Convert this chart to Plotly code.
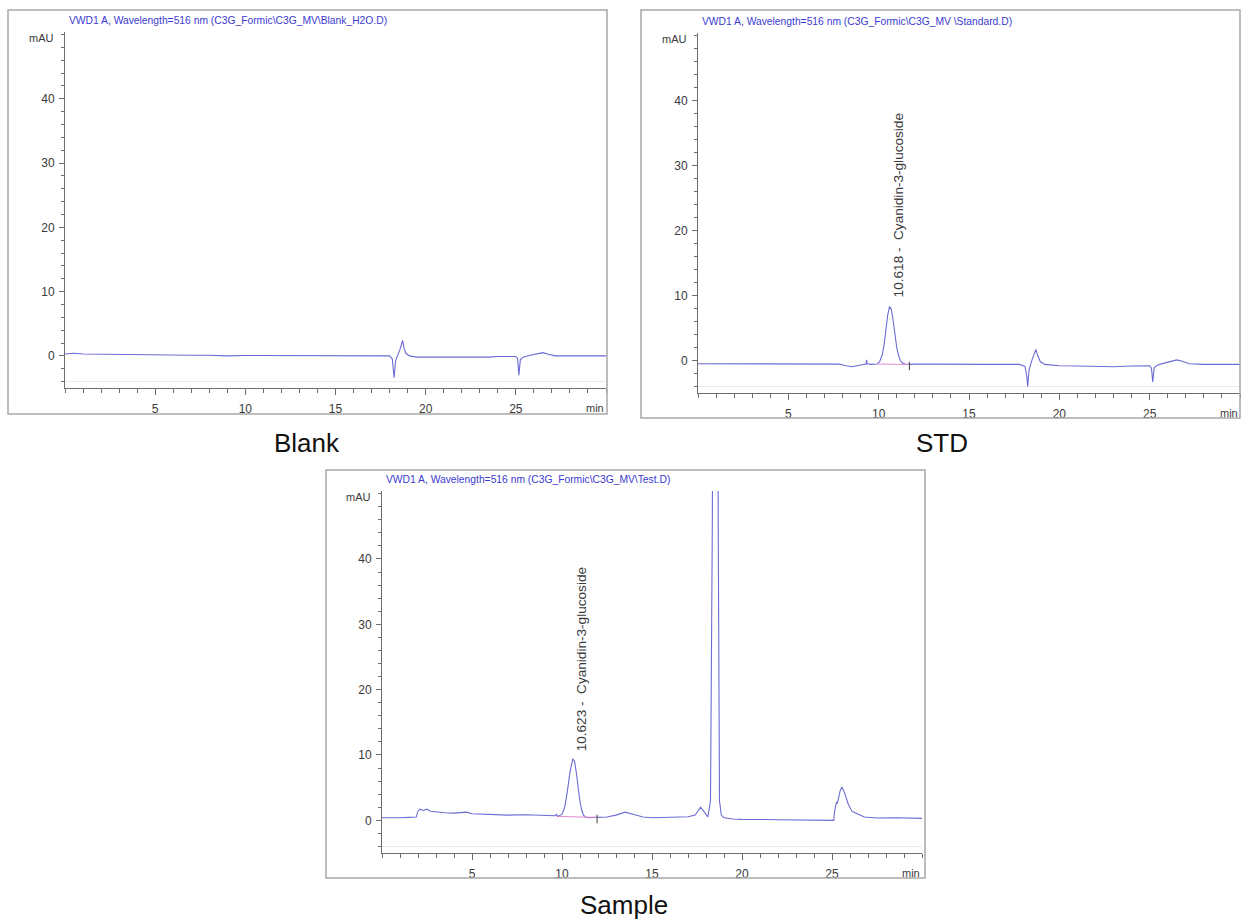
import plotly.graph_objects as go

# ---------------- data ----------------
blank_t = [0, 0.5, 1, 2, 3, 4, 5, 6, 7, 8,
           9, 10, 11, 12, 13, 14, 15, 16, 17, 18.0,
           18.15, 18.25, 18.33, 18.45, 18.6, 18.72, 18.8, 18.9, 19.1, 19.5,
           20, 21, 22, 23, 23.5, 24, 25.0, 25.1, 25.17, 25.25,
           25.4, 25.8, 26.2, 26.5, 26.8, 27.2, 28, 29, 30]
blank_mau = [0.3, 0.4, 0.3, 0.25, 0.2, 0.2, 0.1, 0.15, 0.1, 0.1,
             0.0, 0.05, 0.05, 0.1, 0.1, 0.05, 0.1, 0.05, 0.0, 0.0,
             -0.5, -3.4, -0.8, 0.0, 1.2, 2.4, 1.2, 0.4, 0.0, -0.2,
             -0.2, -0.2, -0.25, -0.3, -0.2, -0.1, -0.1, -0.4, -3.0, -0.6,
             -0.2, 0.1, 0.35, 0.5, 0.25, 0.0, 0.0, -0.05, 0.0]

std_t = [0, 0.5, 1, 2, 3, 4, 5, 6, 7, 7.8,
         8.2, 8.5, 8.8, 9.1, 9.3, 9.33, 9.36, 9.6, 9.9, 10.05,
         10.2, 10.3, 10.4, 10.5, 10.6, 10.7, 10.8, 10.9, 11.0, 11.1,
         11.2, 11.3, 11.45, 11.7, 12, 13, 14, 15, 16, 17,
         17.8, 18.1, 18.2, 18.25, 18.32, 18.45, 18.6, 18.7, 18.8, 18.95,
         19.2, 19.6, 20, 21, 22, 23, 24, 25.0, 25.1, 25.17,
         25.25, 25.45, 25.8, 26.2, 26.5, 26.8, 27.2, 28, 29, 30]
std_mau = [-0.5, -0.5, -0.45, -0.5, -0.55, -0.5, -0.55, -0.5, -0.5, -0.55,
           -0.8, -0.95, -0.8, -0.6, -0.55, 0.1, -0.5, -0.6, -0.55, -0.2,
           0.9, 2.4, 4.7, 7.0, 8.3, 7.9, 6.2, 3.9, 2.0, 0.8,
           0.0, -0.35, -0.55, -0.6, -0.55, -0.55, -0.6, -0.55, -0.6, -0.6,
           -0.6, -0.9, -2.5, -4.0, -1.5, -0.2, 1.0, 1.7, 0.8, -0.2,
           -0.6, -0.75, -0.8, -0.85, -0.9, -0.95, -0.85, -0.8, -1.2, -3.3,
           -1.1, -0.7, -0.4, -0.1, 0.1, -0.1, -0.5, -0.6, -0.6, -0.6]

sample_t = [0, 0.5, 1.0, 1.5, 1.9, 2.0, 2.1, 2.3, 2.5, 2.7,
            3.0, 3.5, 4.0, 4.5, 4.7, 5.0, 6.0, 7.0, 8.0, 9.0,
            9.6, 9.7, 9.75, 10.0, 10.15, 10.3, 10.45, 10.6, 10.7, 10.8,
            10.9, 11.0, 11.1, 11.2, 11.3, 11.5, 11.9, 12.5, 13.0, 13.5,
            14.0, 14.5, 15.0, 16.0, 17.0, 17.4, 17.7, 17.9, 18.1, 18.25,
            18.35, 18.42, 18.62, 18.68, 18.75, 18.85, 19.0, 19.5, 20.0, 22.0,
            24.0, 25.1, 25.15, 25.25, 25.3, 25.45, 25.55, 25.7, 25.9, 26.1,
            26.4, 26.8, 27.5, 28.5, 30.0]
sample_mau = [0.4, 0.35, 0.4, 0.45, 0.5, 1.4, 1.7, 1.5, 1.7, 1.4,
              1.3, 1.15, 1.1, 1.2, 1.25, 1.0, 0.85, 0.8, 0.85, 0.75,
              0.7, 0.9, 0.6, 0.9, 2.0, 4.5, 7.5, 9.4, 9.0, 7.2,
              4.8, 2.8, 1.5, 0.8, 0.5, 0.4, 0.45, 0.5, 0.8, 1.25,
              0.9, 0.5, 0.4, 0.5, 0.55, 0.8, 2.0, 1.3, 0.5, 3.0,
              45.0, 95.0, 95.0, 45.0, 3.0, 0.8, 0.4, 0.2, 0.15, 0.1,
              0.05, 0.0, 1.5, 2.8, 2.6, 4.5, 5.1, 4.2, 2.5, 1.4,
              1.0, 0.5, 0.35, 0.4, 0.3]

std_base_t = [9.95, 11.7]
std_base_mau = [-0.55, -0.6]
sample_base_t = [9.75, 11.95]
sample_base_mau = [0.6, 0.45]

std_peak_rt = 10.618
sample_peak_rt = 10.623
std_peak_label = "10.618 -  Cyanidin-3-glucoside"
sample_peak_label = "10.623 -  Cyanidin-3-glucoside"

titles = [r"VWD1 A, Wavelength=516 nm (C3G_Formic\C3G_MV\Blank_H2O.D)",
          r"VWD1 A, Wavelength=516 nm (C3G_Formic\C3G_MV \Standard.D)",
          r"VWD1 A, Wavelength=516 nm (C3G_Formic\C3G_MV\Test.D)"]
panel_names = ["Blank", "STD", "Sample"]
y_ticks = [0, 10, 20, 30, 40]
x_ticks = [5, 10, 15, 20, 25]

# ---------------- layout geometry (pixels) ----------------
W, H = 1244, 921
def fx(p): return p / W
def fy(p): return 1 - p / H

plots = [(65, 606, 32, 388), (698, 1240, 33, 393), (382, 922, 491, 853)]
frames = [(8, 10, 607, 414), (641, 10, 1240, 418), (326, 470, 925, 878)]
name_pos = [(307, 443), (942, 443), (624, 905)]

LINE = "#6b6bd3"
AXC = "#6e6e6e"
TXT = "#3a3a3a"
FONT = "Liberation Sans"

fig = go.Figure()
series = [(blank_t, blank_mau), (std_t, std_mau), (sample_t, sample_mau)]

for i, (t, v) in enumerate(series):
    xa = "x" if i == 0 else f"x{i+1}"
    ya = "y" if i == 0 else f"y{i+1}"
    fig.add_trace(go.Scatter(x=[0, 30], y=[-4, -4], mode="lines",
                             line=dict(color="#ece6f2", width=1),
                             xaxis=xa, yaxis=ya, hoverinfo="skip"))
    fig.add_trace(go.Scatter(x=t, y=v, mode="lines",
                             line=dict(color=LINE, width=1.1),
                             xaxis=xa, yaxis=ya))

for (bt, bv, xa, ya) in [(std_base_t, std_base_mau, "x2", "y2"),
                         (sample_base_t, sample_base_mau, "x3", "y3")]:
    fig.add_trace(go.Scatter(x=bt, y=bv, mode="lines",
                             line=dict(color="#e58ad0", width=1),
                             xaxis=xa, yaxis=ya))
    fig.add_trace(go.Scatter(x=[bt[1], bt[1]], y=[bv[1] + 0.4, bv[1] - 0.9], mode="lines",
                             line=dict(color="#444", width=1),
                             xaxis=xa, yaxis=ya))

layout = dict(width=W, height=H, margin=dict(l=0, r=0, t=0, b=0),
              paper_bgcolor="white", plot_bgcolor="white", showlegend=False,
              font=dict(family=FONT, color=TXT))

shapes = []
annotations = []
for i in range(3):
    x0, x1, y0, y1 = plots[i]
    sx = "" if i == 0 else str(i + 1)
    layout["xaxis" + sx] = dict(
        domain=[fx(x0), fx(x1)], range=[0, 30], anchor="y" + sx,
        showline=True, linecolor=AXC, linewidth=1,
        tickvals=x_ticks, ticks="outside", ticklen=6, tickcolor=AXC,
        minor=dict(dtick=1, tick0=0, ticks="outside", ticklen=4, tickcolor=AXC),
        showgrid=False, zeroline=False, ticklabelstandoff=4,
        tickfont=dict(family=FONT, size=12, color=TXT))
    layout["yaxis" + sx] = dict(
        domain=[fy(y1), fy(y0)], range=[-5, 50.4], anchor="x" + sx,
        showline=True, linecolor=AXC, linewidth=1,
        tickvals=y_ticks, ticks="outside", ticklen=5, tickcolor=AXC,
        minor=dict(dtick=2, tick0=0, ticks="outside", ticklen=3, tickcolor=AXC),
        showgrid=False, zeroline=False, ticklabelstandoff=2,
        tickfont=dict(family=FONT, size=12, color=TXT))
    fx0, fy0, fx1, fy1 = frames[i]
    shapes.append(dict(type="rect", xref="paper", yref="paper",
                       x0=fx(fx0), x1=fx(fx1), y0=fy(fy1), y1=fy(fy0),
                       line=dict(color="#a8a8a8", width=1.5)))
    annotations.append(dict(text=titles[i], xref="paper", yref="paper",
                            x=fx(x0 + 2), y=fy(y0 - 12), xanchor="left", yanchor="middle",
                            showarrow=False, font=dict(family=FONT, size=10.3, color="#3b3bd0")))
    annotations.append(dict(text="mAU", xref="paper", yref="paper",
                            x=fx(x0 - 9), y=fy(y0 + 6), xanchor="right", yanchor="middle",
                            showarrow=False, font=dict(family=FONT, size=11, color=TXT)))
    annotations.append(dict(text="min", xref="paper", yref="paper",
                            x=fx(x1), y=fy(y1 + 20), xanchor="right", yanchor="middle",
                            showarrow=False, font=dict(family=FONT, size=11, color=TXT)))
    annotations.append(dict(text=panel_names[i], xref="paper", yref="paper",
                            x=fx(name_pos[i][0]), y=fy(name_pos[i][1]),
                            xanchor="center", yanchor="middle", showarrow=False,
                            font=dict(family=FONT, size=26, color="#111")))

annotations.append(dict(text=std_peak_label, x=std_peak_rt + 0.45, y=9.4, xref="x2", yref="y2",
                        textangle=-90, xanchor="center", yanchor="bottom", showarrow=False,
                        font=dict(family=FONT, size=13.6, color=TXT)))
annotations.append(dict(text=sample_peak_label, x=sample_peak_rt + 0.45, y=10.3, xref="x3", yref="y3",
                        textangle=-90, xanchor="center", yanchor="bottom", showarrow=False,
                        font=dict(family=FONT, size=13.6, color=TXT)))

layout["shapes"] = shapes
layout["annotations"] = annotations
fig.update_layout(**layout)
fig.write_html("out.html")
